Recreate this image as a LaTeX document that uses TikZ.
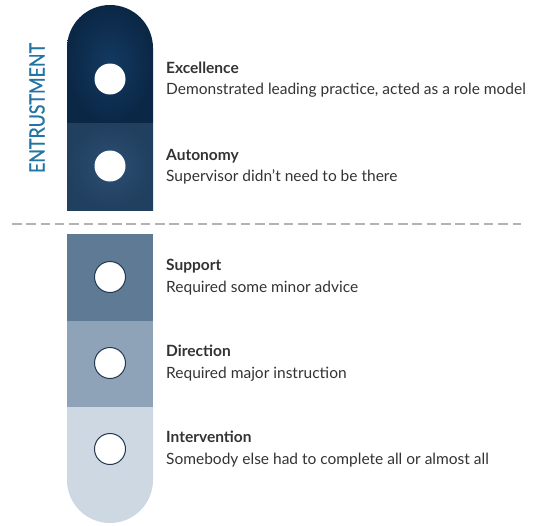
\documentclass[tikz,border=0pt]{standalone}
\usepackage{fontspec}
\setmainfont{Lato}
\newfontfamily\entfont[FakeBold=0.8]{Lato}
\usetikzlibrary{calc}
\definecolor{cExc}{HTML}{0B2746}
\definecolor{cExcIn}{HTML}{133A61}
\definecolor{cAut}{HTML}{213F5F}
\definecolor{cAutIn}{HTML}{2C4F73}
\definecolor{cSup}{HTML}{5E7A95}
\definecolor{cDir}{HTML}{8EA3B8}
\definecolor{cInt}{HTML}{CDD8E3}
\definecolor{cText}{HTML}{333333}
\definecolor{cEnt}{HTML}{2274A5}
\definecolor{cRing}{HTML}{22384F}
\definecolor{cDash}{HTML}{B3B3B3}
\begin{document}
\begin{tikzpicture}[x=1pt,y=-1pt,
  dot/.style={circle,fill=white,minimum size=31pt,inner sep=0pt},
  ringdot/.style={dot,draw=cRing,line width=1pt},
  ttl/.style={anchor=base west,font=\fontsize{15.5}{18}\selectfont\bfseries,text=cText,inner sep=0pt},
  dsc/.style={anchor=base west,font=\fontsize{15.5}{18}\selectfont,text=cText,inner sep=0pt},
  sep/.style={draw=cDash,line width=2pt,dash pattern=on 9.5pt off 4.8pt}]
\useasboundingbox (0,0) rectangle (543,525);
% upper bar
\shade[inner color=cExcIn,outer color=cExc] (67,123) -- (67,48) arc[start angle=180,end angle=360,radius=43] -- (153,123) -- cycle;
\shade[inner color=cAutIn,outer color=cAut] (67,123) rectangle (153,210);
% lower bar
\fill[cSup] (67,234) rectangle (153,321);
\fill[cDir] (67,321) rectangle (153,407);
\fill[cInt] (67,407) -- (67,480) arc[start angle=180,end angle=0,radius=43] -- (153,407) -- cycle;
% separator
\coordinate (sl) at (12,224);
\coordinate (sr) at (521,224);
\draw[sep] (sl) -- (sr);
% label
\node[rotate=90,font=\entfont\fontsize{21}{22}\selectfont,text=cEnt,inner sep=0pt] (ent) at (37,108) {\scalebox{0.85}[1]{ENTRUSTMENT}};
% circles
\node[dot] (c1) at (110,79) {};
\node[dot] (c2) at (110,166) {};
\node[ringdot] (c3) at (110,277) {};
\node[ringdot] (c4) at (110,363) {};
\node[ringdot] (c5) at (110,449) {};
% texts
\node[ttl] (t1) at (166,73) {Excellence};
\node[dsc] (d1) at (166,94) {Demonstrated leading practice, acted as a role model};
\node[ttl] (t2) at (166,160) {Autonomy};
\node[dsc] (d2) at (166,181) {Supervisor didn’t need to be there};
\node[ttl] (t3) at (166,270) {Support};
\node[dsc] (d3) at (166,292) {Required some minor advice};
\node[ttl] (t4) at (166,356) {Direction};
\node[dsc] (d4) at (166,378) {Required major instruction};
\node[ttl] (t5) at (166,442) {Intervention};
\node[dsc] (d5) at (166,464) {Somebody else had to complete all or almost all};
\end{tikzpicture}
\end{document}
